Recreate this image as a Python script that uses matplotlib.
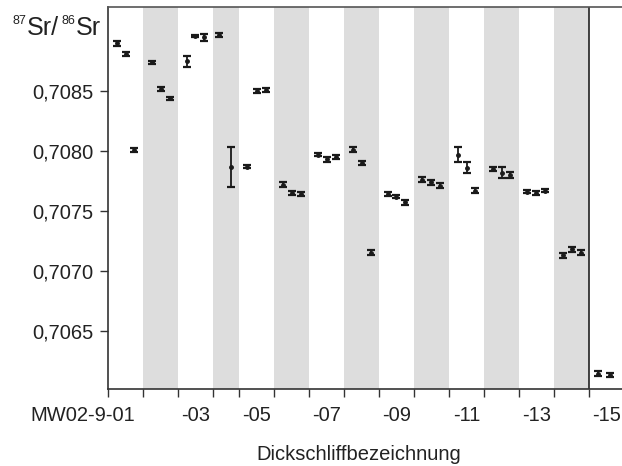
import numpy as np
import matplotlib
matplotlib.use("Agg")
import matplotlib.pyplot as plt
import matplotlib.transforms as mtransforms

plt.rcParams['font.family'] = ['Liberation Sans', 'DejaVu Sans']

# sample bands (edges in sample units; -04 is narrower)
band_edges = [0, 1, 2, 3, 3.74, 4.74, 5.74, 6.74, 7.74, 8.74, 9.74, 10.74, 11.74, 12.74, 13.74, 14.74]
shaded = [1, 3, 5, 7, 9, 11, 13]          # band index of -02, -04, ... -14
label_pos = [0.5, 2.5, 4.24, 6.24, 8.24, 10.24, 12.24, 14.24]
label_txt = ["MW02-9-01", "-03", "-05", "-07", "-09", "-11", "-13", "-15"]

# measurements
x = [0.25, 0.51, 0.73,
     1.25, 1.50, 1.76,
     2.25, 2.49, 2.73,
     3.17, 3.51,
     3.97, 4.24, 4.50,
     4.98, 5.24, 5.51,
     5.98, 6.25, 6.50,
     6.99, 7.24, 7.50,
     7.98, 8.23, 8.49,
     8.97, 9.23, 9.49,
     9.99, 10.24, 10.49,
     10.98, 11.24, 11.49,
     11.97, 12.23, 12.49,
     13.00, 13.25, 13.50,
     13.98, 14.33]
sr = [0.70890, 0.70881, 0.70801,
      0.70874, 0.70852, 0.70844,
      0.70875, 0.70896, 0.70895,
      0.70897, 0.70787,
      0.70787, 0.70850, 0.70851,
      0.70772, 0.70765, 0.70764,
      0.70797, 0.70793, 0.70795,
      0.70801, 0.70790, 0.70715,
      0.70764, 0.70762, 0.70757,
      0.70776, 0.70774, 0.70771,
      0.70797, 0.70786, 0.70767,
      0.70785, 0.70782, 0.70780,
      0.70766, 0.70765, 0.70767,
      0.70713, 0.70718, 0.70715,
      0.70614, 0.70613]
err = [0.000020, 0.000020, 0.000015,
       0.000015, 0.000015, 0.000015,
       0.000046, 0.000010, 0.000030,
       0.000015, 0.000167,
       0.000012, 0.000015, 0.000015,
       0.000020, 0.000015, 0.000015,
       0.000015, 0.000020, 0.000020,
       0.000020, 0.000020, 0.000020,
       0.000015, 0.000015, 0.000020,
       0.000020, 0.000020, 0.000020,
       0.000061, 0.000045, 0.000020,
       0.000020, 0.000045, 0.000025,
       0.000012, 0.000015, 0.000012,
       0.000020, 0.000020, 0.000020,
       0.000020, 0.000020]

yticks = [0.7065, 0.7070, 0.7075, 0.7080, 0.7085]

W, H = 622, 466
fig = plt.figure(figsize=(W / 100, H / 100), dpi=100)
ax = fig.add_axes([0.1741, 0.1646, 0.8259, 0.8197])

for i in shaded:
    ax.axvspan(band_edges[i], band_edges[i + 1], color='#dddddd', lw=0, zorder=0)
ax.axvline(band_edges[14], color='#222222', lw=1.2, zorder=1)

ax.errorbar(x, sr, yerr=err, fmt='o', ms=2.5, color='#1a1a1a',
            ecolor='#1a1a1a', elinewidth=1.3, capsize=3, capthick=1.6, zorder=3)

ax.set_xlim(0, 14.68)
ax.set_ylim(0.70601, 0.70920)

ax.set_yticks(yticks)
ax.set_yticklabels([f"{v:.4f}".replace('.', ',') for v in yticks], fontsize=14.5, color='#222222')
ax.set_xticks(band_edges[:15])
ax.set_xticklabels([])
ax.tick_params(axis='both', direction='out', length=6, width=1, color='#333333')
ax.tick_params(axis='y', pad=5)

for s in ['left', 'bottom']:
    ax.spines[s].set_color('#333333')
    ax.spines[s].set_linewidth(1.2)
ax.spines['top'].set_color('#555555')
ax.spines['top'].set_linewidth(1.2)
ax.spines['right'].set_visible(False)

trans = mtransforms.blended_transform_factory(ax.transData, ax.transAxes)
for p, t in zip(label_pos, label_txt):
    if t.startswith("MW"):
        ax.text(0.76, -0.068, t, transform=trans, ha='right', va='center', fontsize=14.5, color='#222222')
    else:
        ax.text(p, -0.068, t, transform=trans, ha='center', va='center', fontsize=14.5, color='#222222')

fig.text(0.577, 0.024, "Dickschliffbezeichnung", ha='center', va='center', fontsize=14.5, color='#222222')

# 87Sr/86Sr title built from pieces (pixel positions from the top-left)
title_parts = [("87", 12, 24, 9), ("Sr/", 27, 35, 18), ("86", 61, 24, 9), ("Sr", 76, 35, 18)]
for txt, px, py, fs in title_parts:
    fig.text(px / W, 1 - py / H, txt, ha='left', va='baseline', fontsize=fs, color='#222222')

fig.savefig("out.png", dpi=100)
